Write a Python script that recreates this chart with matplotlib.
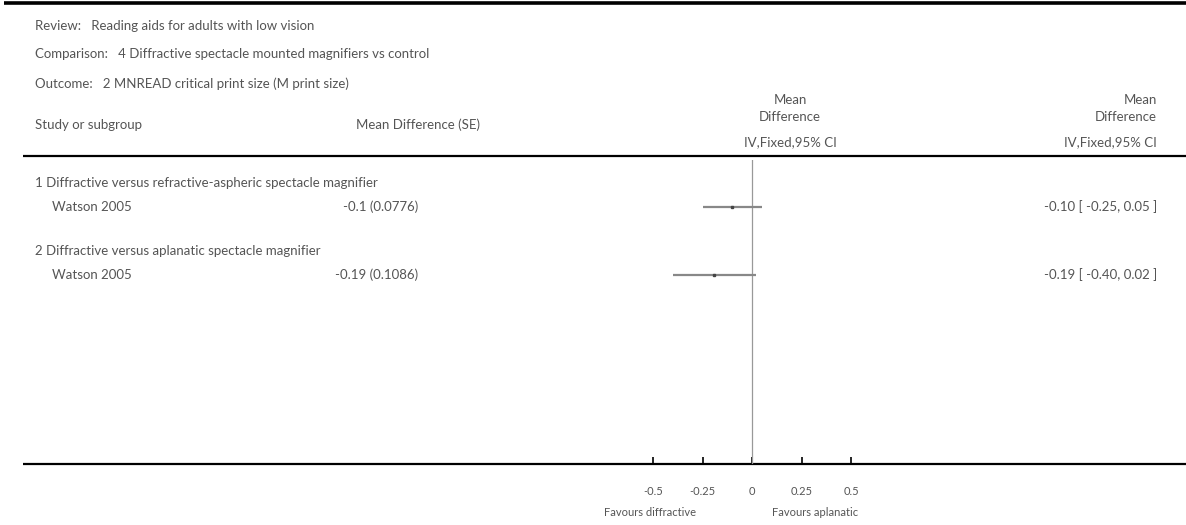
import matplotlib
matplotlib.use("Agg")
import matplotlib.pyplot as plt

# ---- data ----
review = "Reading aids for adults with low vision"
comparison = "4 Diffractive spectacle mounted magnifiers vs control"
outcome = "2 MNREAD critical print size (M print size)"
groups = ["1 Diffractive versus refractive-aspheric spectacle magnifier",
          "2 Diffractive versus aplanatic spectacle magnifier"]
studies = ["Watson 2005", "Watson 2005"]
md = [-0.10, -0.19]
se = [0.0776, 0.1086]
ci_low = [-0.25, -0.40]
ci_high = [0.05, 0.02]
md_se_labels = ["-0.1 (0.0776)", "-0.19 (0.1086)"]
ci_labels = ["-0.10 [ -0.25, 0.05 ]", "-0.19 [ -0.40, 0.02 ]"]
ticks = [-0.5, -0.25, 0, 0.25, 0.5]
tick_labels = ["-0.5", "-0.25", "0", "0.25", "0.5"]
favours_left = "Favours diffractive"
favours_right = "Favours aplanatic"

W, H = 1186, 525
plt.rcParams['font.family'] = ['Lato', 'DejaVu Sans']
TXT = '#555555'
FS = 9.5

fig = plt.figure(figsize=(W / 100, H / 100), dpi=100)
base = fig.add_axes([0, 0, 1, 1])
base.set_xlim(0, W)
base.set_ylim(H, 0)
base.axis('off')

def t(x, y, s, ha='left', **kw):
    base.text(x, y, s, ha=ha, va='center', fontsize=FS, color=TXT, **kw)

# header block
base.plot([4, W], [3, 3], color='black', lw=2.6, solid_capstyle='butt')
t(35, 26, "Review:   " + review)
t(35, 54, "Comparison:   " + comparison)
t(35, 84, "Outcome:   " + outcome)

t(35, 125, "Study or subgroup")
t(480, 125, "Mean Difference (SE)", ha='right')
t(790, 100, "Mean", ha='center')
t(790, 117, "Difference", ha='center')
t(790, 142, "IV,Fixed,95% CI", ha='center')
t(1157, 100, "Mean", ha='right')
t(1157, 117, "Difference", ha='right')
t(1157, 142, "IV,Fixed,95% CI", ha='right')
base.plot([23, W], [156, 156], color='black', lw=1.6, solid_capstyle='butt')
base.plot([23, W], [464, 464], color='black', lw=1.6, solid_capstyle='butt')

group_y = [183, 251]
row_y = [207, 275]
for g, gy in zip(groups, group_y):
    t(35, gy, g)
for s, lab, cil, ry in zip(studies, md_se_labels, ci_labels, row_y):
    t(52, ry, s)
    t(418, ry, lab, ha='right')
    t(1157, ry, cil, ha='right')

# forest axes: x data -1..1 -> pixels 554..950 ; y in pixel units
x0, x1 = 554, 950
ytop, ybot = 160, 464
ax = fig.add_axes([x0 / W, 1 - ybot / H, (x1 - x0) / W, (ybot - ytop) / H])
ax.set_xlim(-1, 1)
ax.set_ylim(ybot, ytop)
ax.patch.set_alpha(0)
for sp in ax.spines.values():
    sp.set_visible(False)
ax.axvline(0, color='#999999', lw=0.9)
ax.hlines(row_y, ci_low, ci_high, color='#888888', lw=1.6)
ax.plot(md, row_y, marker='s', ms=2.0, color='#444444', ls='none')
ax.set_yticks([])
ax.set_xticks(ticks)
ax.set_xticklabels(tick_labels, fontsize=8, color=TXT)
ax.tick_params(axis='x', direction='in', length=5, width=1.2, color='black', pad=16)

base.text(650, 512, favours_left, ha='center', va='center', fontsize=8, color=TXT)
base.text(815, 512, favours_right, ha='center', va='center', fontsize=8, color=TXT)

fig.savefig("out.png", dpi=100)
